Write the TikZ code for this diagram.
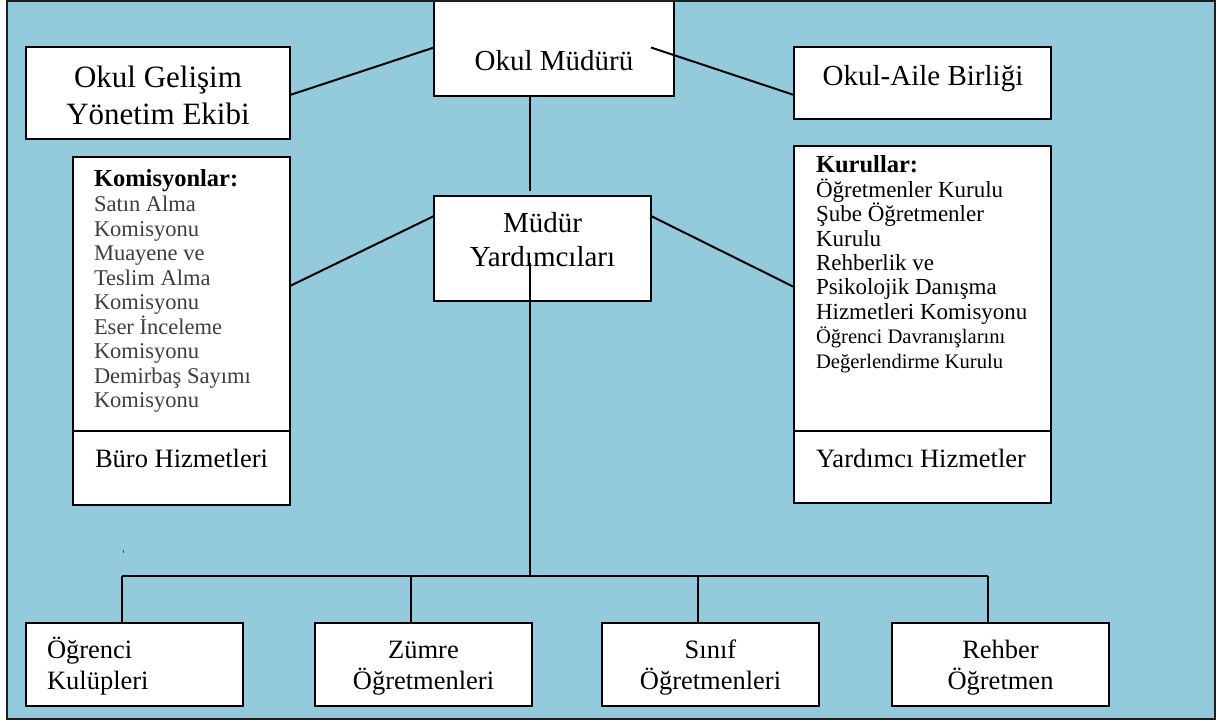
\documentclass[tikz,border=0pt]{standalone}
\usepackage{fontspec}
\setmainfont{Liberation Serif}
\usetikzlibrary{calc}
\definecolor{bgblue}{RGB}{147,203,220}
\definecolor{listgray}{RGB}{62,62,62}
\definecolor{framecol}{RGB}{30,30,30}
\newcommand\myfs[2]{\fontsize{#1}{#2}\selectfont}
\newcommand\stackc[2]{\vtop{\baselineskip=#1\lineskiplimit=-1000pt\lineskip=0pt\halign{\hfil##\hfil\cr#2\crcr}}}
\newcommand\stackl[2]{\vtop{\baselineskip=#1\lineskiplimit=-1000pt\lineskip=0pt\halign{##\hfil\cr#2\crcr}}}
\begin{document}
\begin{tikzpicture}[x=1pt,y=-1pt,
  box/.style={draw=black, fill=white, line width=2pt, inner sep=0pt, outer sep=0pt, anchor=north west},
  conn/.style={draw=black, line width=2pt},
  txt/.style={inner sep=0pt, outer sep=0pt, anchor=base, text=black},
  txtl/.style={inner sep=0pt, outer sep=0pt, anchor=base west, text=black}]
\useasboundingbox (0,0) rectangle (1220,722);
\fill[white] (0,0) rectangle (1220,722);
\fill[bgblue] (7,1) rectangle (1215,719);

% boxes
\node[box, minimum width=240pt, minimum height=97pt] (om) at (434,-1) {};
\node[box, minimum width=264pt, minimum height=92pt] (gel) at (26,47) {};
\node[box, minimum width=257pt, minimum height=72pt] (oab) at (794,47) {};
\node[box, minimum width=217pt, minimum height=348pt] (kom) at (73,157) {};
\node[box, minimum width=217pt, minimum height=105pt] (my) at (434,196) {};
\node[box, minimum width=257pt, minimum height=357pt] (kur) at (794,146) {};
\node[box, minimum width=217pt, minimum height=83pt] (ogr) at (26,623) {};
\node[box, minimum width=217pt, minimum height=83pt] (zum) at (315,623) {};
\node[box, minimum width=217pt, minimum height=83pt] (sin) at (602,623) {};
\node[box, minimum width=217pt, minimum height=83pt] (reh) at (892,623) {};

% dividers
\draw[conn] ($(kom.north west)+(0,274)$) -- ($(kom.north east)+(0,274)$);
\draw[conn] ($(kur.north west)+(0,285)$) -- ($(kur.north east)+(0,285)$);

% texts
\node[txt, font=\myfs{29}{35}] (omt) at (554,71) {Okul Müdürü};
\node[txt, font=\myfs{31}{37}] (gelt) at (158,88) {\stackc{37pt}{Okul Gelişim\cr Yönetim Ekibi}};
\node[txt, font=\myfs{29}{35}] (oabt) at (923,86) {Okul-Aile Birliği};
\node[txt, font=\myfs{29}{35}] (myt) at (542.5,233) {\stackc{34pt}{Müdür\cr Yardımcıları}};
\node[txtl, font=\myfs{22.5}{24.5}, text=listgray] (komt) at (94,187) {\stackl{24.5pt}{%
  {\color{black}\myfs{24.5}{24.5}\bfseries Komisyonlar:}\cr
  Satın Alma\cr Komisyonu\cr Muayene ve\cr Teslim Alma\cr Komisyonu\cr
  Eser İnceleme\cr Komisyonu\cr Demirbaş Sayımı\cr Komisyonu}};
\node[txtl, font=\myfs{26.5}{31}] (burt) at (95,467) {Büro Hizmetleri};
\node[txtl, font=\myfs{23}{24.4}] (kurt) at (816,173) {\stackl{24.4pt}{%
  {\myfs{24.5}{24.5}\bfseries Kurullar:}\cr
  Öğretmenler Kurulu\cr Şube Öğretmenler\cr Kurulu\cr Rehberlik ve\cr
  Psikolojik Danışma\cr Hizmetleri Komisyonu\cr
  {\myfs{20.6}{24}Öğrenci Davranışlarını}\cr
  {\myfs{20.6}{24}Değerlendirme Kurulu}}};
\node[txtl, font=\myfs{26.5}{31}] (yhzt) at (816,467) {Yardımcı Hizmetler};
\node[txtl, font=\myfs{26.5}{31}] (ogrt) at (47,658) {\stackl{31pt}{Öğrenci\cr Kulüpleri}};
\node[txt, font=\myfs{26.5}{31}] (zumt) at (423.5,658) {\stackc{31pt}{Zümre\cr Öğretmenleri}};
\node[txt, font=\myfs{26.5}{31}] (sint) at (710.5,658) {\stackc{31pt}{Sınıf\cr Öğretmenleri}};
\node[txt, font=\myfs{26.5}{31}] (reht) at (1000.5,658) {\stackc{31pt}{Rehber\cr Öğretmen}};

% connectors
\coordinate (spine) at ($(my.north)+(-12.5,0)$);
\coordinate (bus) at ($(zum.north)+(0,-47)$);
\draw[conn] (om.west) -- ($(gel.south east)+(0,-44)$);
\draw[conn] (my.east |- om.west) -- ($(oab.south west)+(0,-24)$);
\draw[conn] (om.south -| spine) -- ($(spine)+(0,-5)$);
\draw[conn] ($(my.north west)+(0,20)$) -- ($(kom.north east)+(0,129)$);
\draw[conn] ($(my.north east)+(0,20)$) -- ($(kur.north west)+(0,141)$);
\coordinate (spinebus) at (spine |- bus);
\draw[conn] ($(spine)+(0,67)$) -- (spinebus);
\foreach \b in {ogr,zum,sin,reh}{
  \coordinate (\b-top) at ($(\b.north)+(-12.5,0)$);
  \coordinate (\b-bus) at (\b-top |- bus);
  \draw[conn] (\b-bus) -- (\b-top);
}
\draw[conn] (ogr-bus) -- (reh-bus);
\coordinate (tick) at ($(ogr.north)+(-11.5,-73)$);
\draw[line width=0.8pt, black!70] (tick) -- ($(tick)+(0,3)$);

% frame
\draw[draw=framecol, line width=2.5pt] (7,1) rectangle (1215,719);
\end{tikzpicture}
\end{document}
